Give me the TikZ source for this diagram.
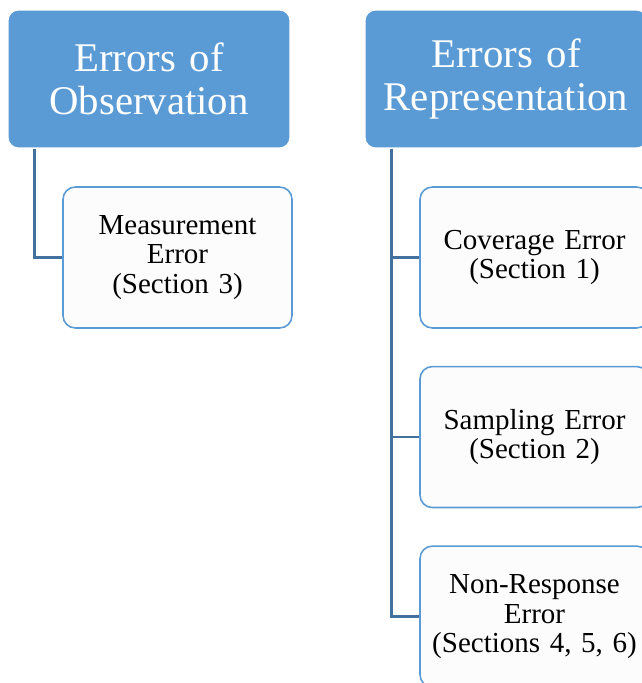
\documentclass[tikz,border=0pt]{standalone}
\usepackage{fontspec}
\setmainfont{Liberation Serif}
\usetikzlibrary{positioning}

\definecolor{headblue}{HTML}{5B9BD5}
\definecolor{linkblue}{HTML}{41719C}
\definecolor{boxwhite}{HTML}{FCFCFC}

\tikzset{
    headbox/.style={draw=white, line width=0.6pt, fill=headblue, rounded corners=6pt,
        minimum width=5.64cm, minimum height=2.76cm, text width=5.4cm, align=center,
        text=white, font=\fontsize{23.2}{24.4}\selectfont},
    childbox/.style={draw=headblue, line width=0.9pt, fill=boxwhite, rounded corners=7pt,
        minimum width=4.58cm, minimum height=2.82cm, text width=4.3cm, align=center,
        font=\fontsize{16.5}{17}\selectfont},
    conn/.style={draw=linkblue, line width=1.4pt}
}

\begin{document}
\begin{tikzpicture}[x=0.02cm, y=-0.02cm]
    \clip (0,0) rectangle (642,683);

    % The two headings
    \node[headbox] (obs) at (149,79) {Errors of\\Observation};
    \node[headbox] (rep) at (506,79) {Errors of\\Representation};

    % Left branch
    \node[childbox] (meas) at (177.5,257.5) {Measurement\\Error\\(Section 3)};

    % Right branch, stacked below one another
    \node[childbox] (cov) at (534.5,257.5) {Coverage Error\\(Section 1)};
    \node[childbox, below=0.74cm of cov] (samp) {Sampling Error\\(Section 2)};
    \node[childbox, below=0.74cm of samp] (nonresp) {Non-Response\\Error\\(Sections 4, 5, 6)};

    % Connectors
    \draw[conn] ([xshift=0.54cm]obs.south west) |- (meas.west);
    \foreach \kid in {cov,samp,nonresp} {
        \draw[conn] ([xshift=0.54cm]rep.south west) |- (\kid.west);
    }
\end{tikzpicture}
\end{document}
